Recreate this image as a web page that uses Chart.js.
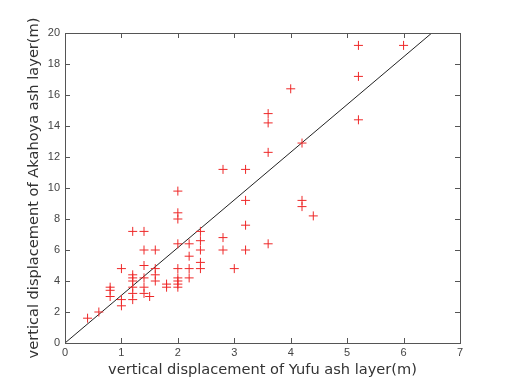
<!DOCTYPE html>
<html>
<head>
<meta charset="utf-8">
<script src="https://cdn.jsdelivr.net/npm/chart.js@4/dist/chart.umd.min.js"></script>
<style>
html,body{margin:0;padding:0;background:#fff;}
#wrap{width:505px;height:384px;position:relative;}
</style>
</head>
<body>
<div id="wrap"><canvas id="c"></canvas></div>
<script>
const yufu = [0.4,0.6,0.8,0.8,0.8,1.0,1.0,1.0,1.2,1.2,1.2,1.2,1.2,1.2,1.2,1.4,1.4,1.4,1.4,1.4,1.4,1.5,1.6,1.6,1.6,1.6,1.8,1.8,2.0,2.0,2.0,2.0,2.0,2.0,2.0,2.0,2.0,2.2,2.2,2.2,2.2,2.4,2.4,2.4,2.4,2.4,2.8,2.8,2.8,3.0,3.2,3.2,3.2,3.2,3.6,3.6,3.6,3.6,4.0,4.2,4.2,4.2,4.4,5.2,5.2,5.2,6.0];
const akahoya = [1.6,2.0,3.6,3.4,3.0,4.8,2.8,2.4,7.2,4.4,4.2,4.0,3.6,3.2,2.8,7.2,6.0,5.0,4.2,3.6,3.2,3.0,6.0,4.8,4.4,4.0,3.8,3.6,9.8,8.4,8.0,6.4,4.8,4.2,4.0,3.8,3.6,6.4,5.6,4.8,4.2,7.2,6.6,6.0,5.2,4.8,11.2,6.8,6.0,4.8,11.2,9.2,7.6,6.0,14.8,14.2,12.3,6.4,16.4,12.9,9.2,8.8,8.2,19.2,17.2,14.4,19.2];
const fitX = [0, 6.5];
const fitY = [0, 20];
const xTicks = [0,1,2,3,4,5,6,7];
const yTicks = [0,2,4,6,8,10,12,14,16,18,20];
const xTitle = 'vertical displacement of Yufu ash layer(m)';
const yTitle = 'vertical displacement of Akahoya ash layer(m)';

const boxTicks = {
  id: 'boxTicks',
  afterDraw(chart) {
    const {ctx, chartArea: a, scales} = chart;
    ctx.save();
    ctx.strokeStyle = '#555';
    ctx.lineWidth = 1;
    ctx.strokeRect(Math.round(a.left)+0.5, Math.round(a.top)+0.5, Math.round(a.right-a.left), Math.round(a.bottom-a.top));
    const L = 5;
    ctx.beginPath();
    scales.x.ticks.forEach(t => {
      const px = Math.round(scales.x.getPixelForValue(t.value)) + 0.5;
      ctx.moveTo(px, a.bottom); ctx.lineTo(px, a.bottom - L);
      ctx.moveTo(px, a.top); ctx.lineTo(px, a.top + L);
    });
    scales.y.ticks.forEach(t => {
      const py = Math.round(scales.y.getPixelForValue(t.value)) + 0.5;
      ctx.moveTo(a.left, py); ctx.lineTo(a.left + L, py);
      ctx.moveTo(a.right, py); ctx.lineTo(a.right - L, py);
    });
    ctx.stroke();
    ctx.restore();
  }
};

new Chart(document.getElementById('c'), {
  type: 'scatter',
  data: {
    datasets: [
      {
        data: yufu.map((x, i) => ({x, y: akahoya[i]})),
        pointStyle: 'cross',
        pointRadius: 4.5,
        pointHoverRadius: 4.5,
        borderColor: '#ee2828',
        backgroundColor: '#ee2828',
        pointBorderWidth: 1,
        showLine: false
      },
      {
        type: 'line',
        data: fitX.map((x, i) => ({x, y: fitY[i]})),
        borderColor: '#222',
        borderWidth: 1,
        pointRadius: 0,
        fill: false
      }
    ]
  },
  options: {
    responsive: true,
    maintainAspectRatio: false,
    animation: false,
    layout: {padding: {left: 0, top: 33, right: 45, bottom: 0}},
    plugins: {legend: {display: false}, tooltip: {enabled: false}},
    scales: {
      x: {
        type: 'linear', min: 0, max: 7,
        afterBuildTicks: s => { s.ticks = xTicks.map(v => ({value: v})); },
        afterFit: s => { s.height = 41; },
        grid: {display: false, drawTicks: false},
        border: {display: false},
        ticks: {color: '#444', font: {family: 'Liberation Sans', size: 11}, padding: 3, maxRotation: 0},
        title: {display: true, text: xTitle, color: '#333', font: {family: 'DejaVu Sans', size: 14.6}, padding: {top: 0, bottom: 5}}
      },
      y: {
        type: 'linear', min: 0, max: 20,
        afterBuildTicks: s => { s.ticks = yTicks.map(v => ({value: v})); },
        afterFit: s => { s.width = 65; },
        grid: {display: false, drawTicks: false},
        border: {display: false},
        ticks: {color: '#444', font: {family: 'Liberation Sans', size: 11}, padding: 5},
        title: {display: true, text: yTitle, color: '#333', font: {family: 'DejaVu Sans', size: 14.6}, padding: {top: 25, bottom: 0}}
      }
    }
  },
  plugins: [boxTicks]
});
</script>
</body>
</html>
